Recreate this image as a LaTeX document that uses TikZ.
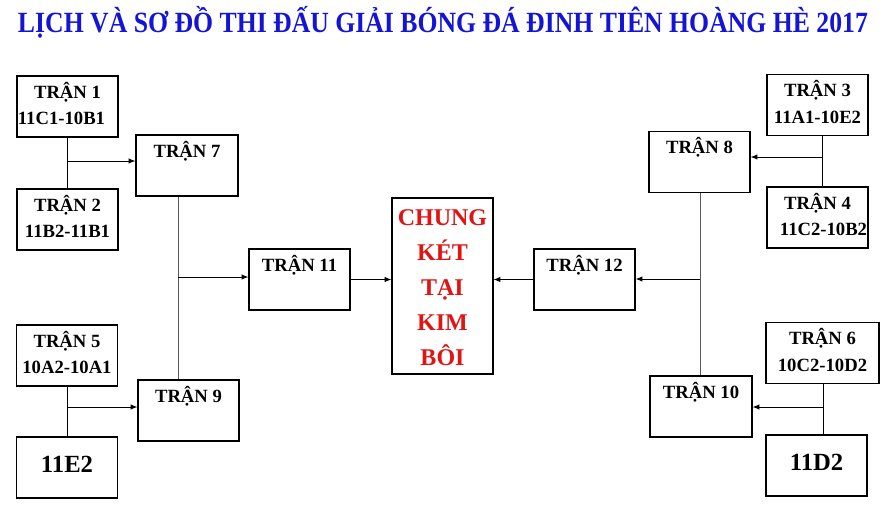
\documentclass[tikz,border=0pt]{standalone}
\usepackage{fontspec}
\setmainfont{Liberation Serif}
\usepackage{graphicx}
\usepackage{xcolor}
\usetikzlibrary{arrows.meta}

\definecolor{titleblue}{RGB}{20,20,215}
\definecolor{finalred}{RGB}{225,20,20}

\tikzset{
    match/.style={draw=black, line width=0.9pt, inner sep=0pt, minimum width=75.75pt,
        text height=16.5pt, text depth=29.25pt, font=\fontsize{14}{20}\selectfont\bfseries},
    team/.style={draw=black, line width=0.9pt, inner sep=0pt, minimum width=75.75pt,
        text height=26.25pt, text depth=19.5pt, font=\fontsize{18.5}{22}\selectfont\bfseries},
    final/.style={draw=black, line width=0.9pt, inner sep=0pt, minimum width=75.75pt,
        text height=20.25pt, text depth=111.75pt, text=finalred,
        font=\fontsize{18}{26.25}\selectfont\bfseries},
    stem/.style={black!65, line width=0.75pt}
}
\newcommand{\tran}[2]{\begin{tabular}[t]{@{}c@{}}#1\\#2\end{tabular}}

\begin{document}
\begin{tikzpicture}[x=0.75pt, y=-0.75pt, line width=0.75pt, >={Latex[length=5pt,width=4pt]}]
    \useasboundingbox (0,0) rectangle (890,521);

    % title
    \node[anchor=base, text=titleblue, font=\fontsize{22}{26}\selectfont\bfseries] (title) at (443,32)
        {\resizebox{637.5pt}{\height}{LỊCH VÀ SƠ ĐỒ THI ĐẤU GIẢI BÓNG ĐÁ ĐINH TIÊN HOÀNG HÈ 2017}};

    % left side
    \node[match] (t1) at (67.5,106.5) {\tran{TRẬN 1}{\hspace*{-9pt}11C1-10B1}};
    \node[match] (t2) at (67.5,219.5) {\tran{TRẬN 2}{11B2-11B1}};
    \node[match] (t5) at (67,355.5) {\tran{TRẬN 5}{10A2-10A1}};
    \node[team] (e2) at (67,467.5) {11E2};
    \node[match, minimum width=76.5pt] (t7) at (187,165.5) {TRẬN 7};
    \node[match] (t9) at (188.5,410.5) {TRẬN 9};
    \node[match] (t11) at (299.5,279.5) {TRẬN 11};

    % final
    \node[final] (ck) at (442.5,286) {\tran{CHUNG\\KÉT\\TẠI\\KIM}{BÔI}};

    % right side
    \node[match] (t12) at (584.5,279.5) {TRẬN 12};
    \node[match] (t8) at (699.5,162) {TRẬN 8};
    \node[match, minimum width=76.5pt] (t10) at (701,406.5) {TRẬN 10};
    \node[match] (t3) at (817.5,105) {\tran{TRẬN 3}{11A1-10E2}};
    \node[match] (t4) at (817.5,217.5) {\tran{TRẬN 4}{\hspace*{9pt}11C2-10B2}};
    \node[match, minimum width=84.75pt] (t6) at (822.5,353) {\tran{TRẬN 6}{10C2-10D2}};
    \node[team] (d2) at (816.5,465.5) {11D2};

    % joints
    \coordinate (j12) at (67,161);
    \coordinate (j56) at (67,407);
    \coordinate (j79) at (178,277);
    \coordinate (j34) at (822,157);
    \coordinate (j6d) at (823,407);
    \coordinate (j810) at (700,279);

    % edges
    \draw (j12 |- t1.south) -- (j12 |- t2.north);
    \draw[->] (j12) -- (j12 -| t7.west);
    \draw (j56 |- t5.south) -- (j56 |- e2.north);
    \draw[->] (j56) -- (j56 -| t9.west);
    \draw[stem] (j79 |- t7.south) -- (j79 |- t9.north);
    \draw[->] (j79) -- (j79 -| t11.west);
    \draw[->] (t11.east) -- (t11.east -| ck.west);
    \draw[->] (t12.west) -- (t12.west -| ck.east);
    \draw[stem] (j810 |- t8.south) -- (j810 |- t10.north);
    \draw[->] (j810) -- (j810 -| t12.east);
    \draw (j34 |- t3.south) -- (j34 |- t4.north);
    \draw[->] (j34) -- (j34 -| t8.east);
    \draw (j6d |- t6.south) -- (j6d |- d2.north);
    \draw[->] (j6d) -- (j6d -| t10.east);
\end{tikzpicture}
\end{document}
